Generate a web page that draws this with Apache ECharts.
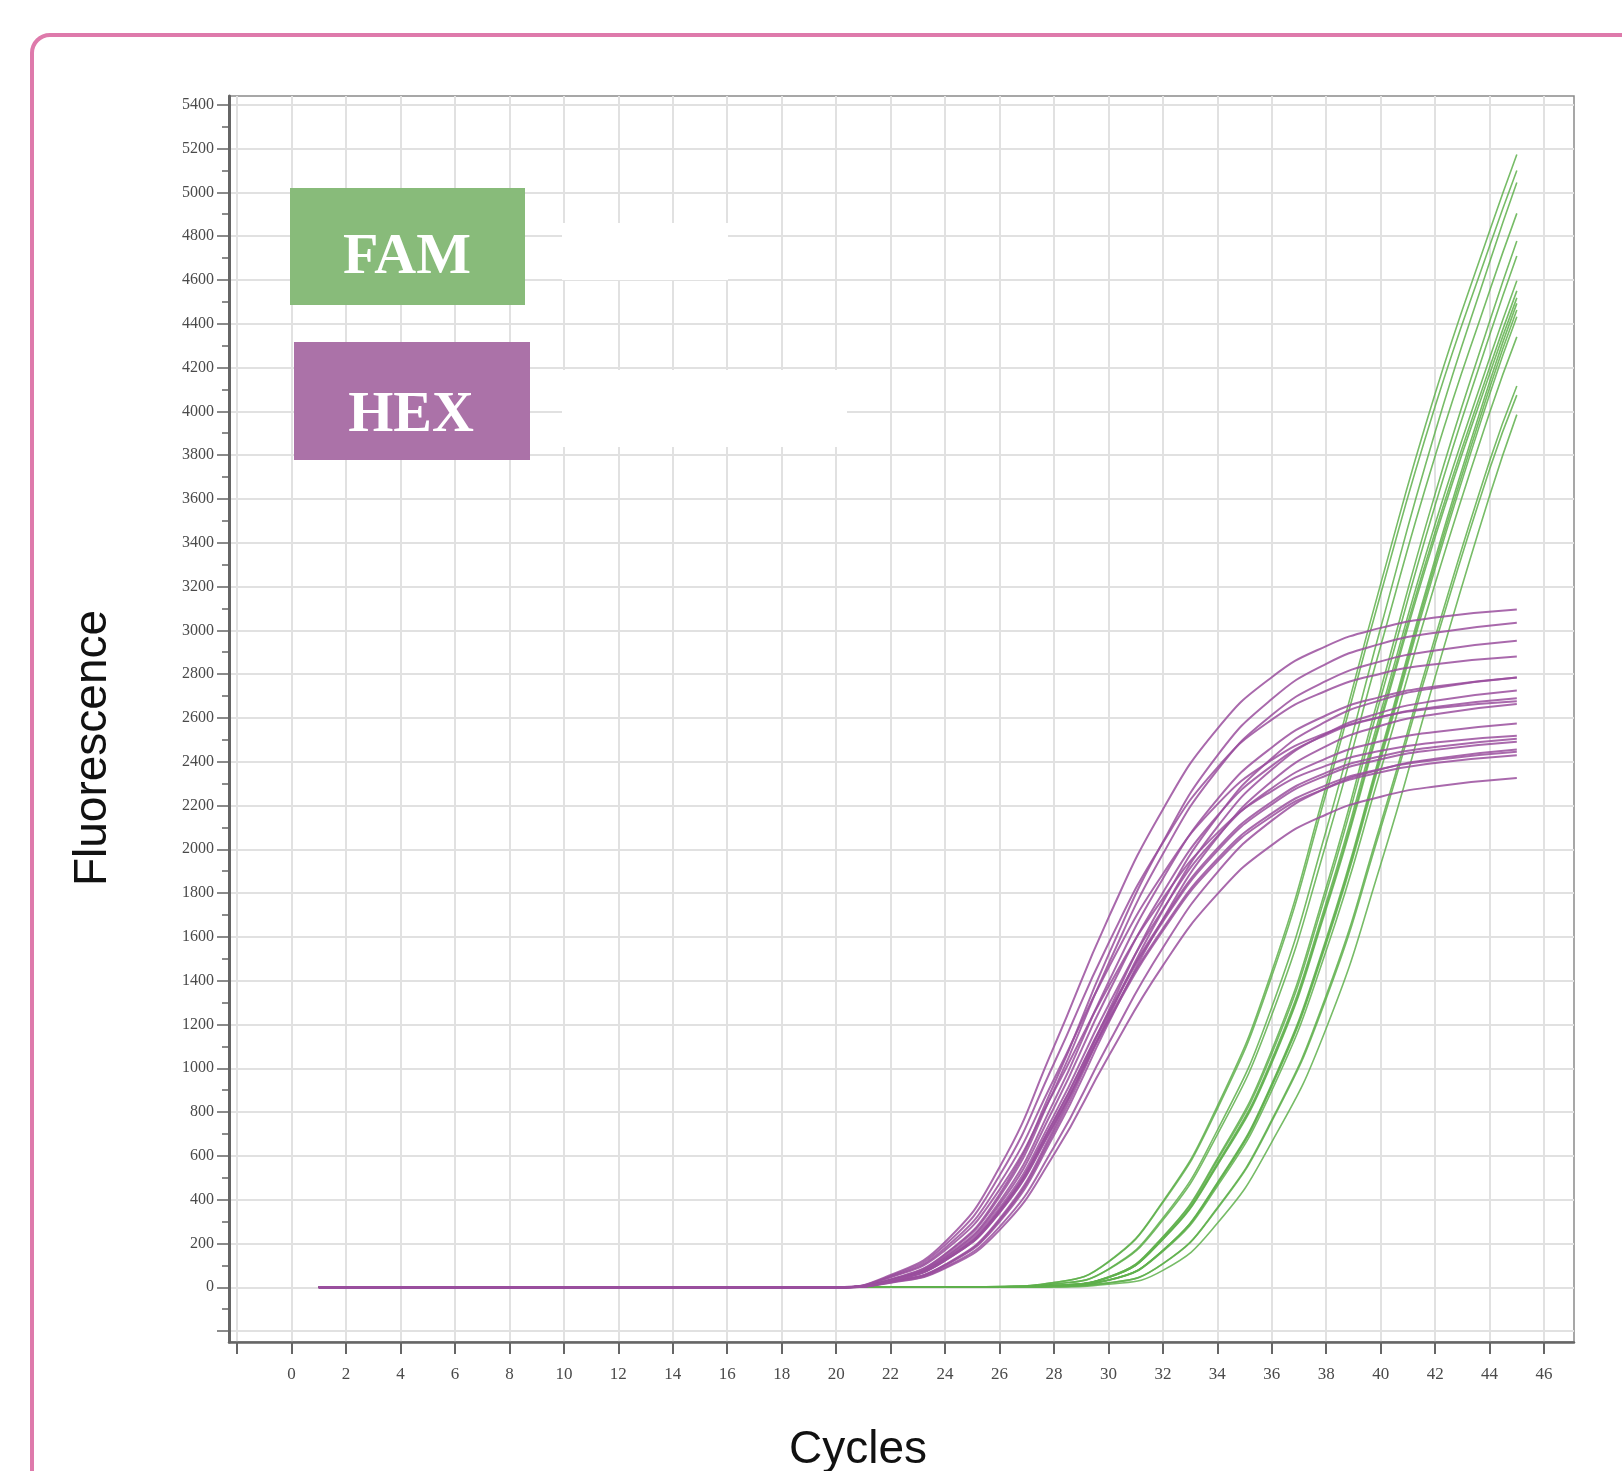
<!DOCTYPE html>
<html>
<head>
<meta charset="utf-8">
<script src="https://cdn.jsdelivr.net/npm/echarts@6/dist/echarts.min.js"></script>
<style>
  html, body { margin: 0; padding: 0; background: #ffffff; }
  #chart { width: 1622px; height: 1471px; }
</style>
</head>
<body>
<div id="chart"></div>
<script>
// ---- tick labels ----
const xTickValues = [-2, 0, 2, 4, 6, 8, 10, 12, 14, 16, 18, 20, 22, 24, 26, 28, 30, 32, 34, 36, 38, 40, 42, 44, 46];
const xLabelValues = [0, 2, 4, 6, 8, 10, 12, 14, 16, 18, 20, 22, 24, 26, 28, 30, 32, 34, 36, 38, 40, 42, 44, 46];
const yTickValues = [-200, 0, 200, 400, 600, 800, 1000, 1200, 1400, 1600, 1800, 2000, 2200, 2400, 2600, 2800, 3000, 3200, 3400, 3600, 3800, 4000, 4200, 4400, 4600, 4800, 5000, 5200, 5400];
const yLabelValues = [0, 200, 400, 600, 800, 1000, 1200, 1400, 1600, 1800, 2000, 2200, 2400, 2600, 2800, 3000, 3200, 3400, 3600, 3800, 4000, 4200, 4400, 4600, 4800, 5000, 5200, 5400];
const yMinorValues = [-100, 100, 300, 500, 700, 900, 1100, 1300, 1500, 1700, 1900, 2100, 2300, 2500, 2700, 2900, 3100, 3300, 3500, 3700, 3900, 4100, 4300, 4500, 4700, 4900, 5100, 5300];

// ---- HEX (purple) curves: cycles and fluorescence ----
const hexCycles = [1, 18, 20, 22, 24, 26, 28, 30, 32, 34, 36, 38, 40, 42, 45];
const hexCurves = [
  [0, 0, 0, 56, 207, 548, 1099, 1687, 2182, 2550, 2786, 2928, 3011, 3058, 3095],
  [0, 0, 0, 36, 152, 425, 926, 1518, 2033, 2428, 2686, 2847, 2938, 2989, 3035],
  [0, 0, 0, 35, 148, 413, 900, 1476, 1978, 2362, 2613, 2769, 2858, 2908, 2952],
  [0, 0, 0, 52, 193, 510, 1022, 1570, 2030, 2373, 2592, 2724, 2802, 2845, 2880],
  [0, 0, 0, 33, 139, 390, 849, 1393, 1866, 2228, 2465, 2612, 2696, 2743, 2785],
  [0, 0, 0, 25, 103, 312, 725, 1261, 1758, 2148, 2416, 2584, 2681, 2737, 2784],
  [0, 0, 0, 25, 101, 306, 710, 1234, 1720, 2102, 2364, 2528, 2624, 2678, 2725],
  [0, 0, 0, 32, 135, 377, 820, 1345, 1802, 2152, 2381, 2523, 2604, 2650, 2690],
  [0, 0, 0, 48, 179, 474, 950, 1458, 1887, 2205, 2408, 2531, 2604, 2644, 2676],
  [0, 0, 0, 24, 99, 299, 694, 1206, 1681, 2054, 2311, 2471, 2564, 2617, 2663],
  [0, 0, 0, 31, 129, 361, 785, 1288, 1725, 2060, 2279, 2415, 2493, 2536, 2575],
  [0, 0, 0, 45, 169, 446, 894, 1372, 1775, 2075, 2266, 2382, 2450, 2488, 2518],
  [0, 0, 0, 30, 125, 351, 764, 1253, 1678, 2004, 2217, 2350, 2425, 2467, 2505],
  [0, 0, 0, 30, 125, 349, 760, 1246, 1669, 1993, 2205, 2337, 2411, 2454, 2491],
  [0, 0, 0, 22, 91, 276, 640, 1112, 1550, 1895, 2131, 2279, 2365, 2414, 2456],
  [0, 0, 0, 29, 122, 342, 746, 1223, 1638, 1956, 2164, 2293, 2367, 2408, 2445],
  [0, 0, 0, 29, 122, 340, 741, 1215, 1628, 1944, 2151, 2279, 2352, 2394, 2430],
  [0, 0, 0, 21, 86, 261, 606, 1054, 1469, 1795, 2019, 2159, 2240, 2287, 2326]
];

// ---- FAM (green) curves ----
const famCycles = [1, 24, 26, 28, 30, 32, 34, 36, 38, 40, 42, 44, 45];
const famCurves = [
  [0, 0, 3, 21, 117, 392, 827, 1442, 2290, 3212, 4081, 4823, 5173],
  [0, 0, 3, 21, 115, 387, 815, 1421, 2257, 3166, 4023, 4755, 5100],
  [0, 0, 2, 15, 83, 316, 717, 1279, 2087, 3012, 3906, 4681, 5045],
  [0, 0, 2, 15, 81, 307, 697, 1243, 2028, 2928, 3796, 4550, 4904],
  [0, 0, 0, 8, 47, 231, 588, 1082, 1827, 2730, 3623, 4410, 4778],
  [0, 0, 0, 8, 47, 228, 580, 1066, 1801, 2691, 3571, 4347, 4709],
  [0, 0, 0, 8, 45, 222, 566, 1040, 1757, 2626, 3485, 4242, 4596],
  [0, 0, 0, 8, 45, 220, 560, 1030, 1740, 2600, 3450, 4200, 4550],
  [0, 0, 0, 8, 45, 218, 556, 1023, 1728, 2582, 3426, 4171, 4518],
  [0, 0, 0, 5, 33, 169, 478, 929, 1592, 2444, 3327, 4134, 4493],
  [0, 0, 0, 5, 33, 168, 474, 923, 1581, 2428, 3305, 4106, 4463],
  [0, 0, 0, 5, 32, 167, 471, 917, 1570, 2411, 3282, 4077, 4432],
  [0, 0, 0, 5, 32, 164, 461, 898, 1538, 2361, 3214, 3993, 4340],
  [0, 0, 0, 3, 20, 108, 363, 764, 1333, 2117, 2969, 3773, 4116],
  [0, 0, 0, 3, 19, 107, 359, 757, 1319, 2095, 2939, 3735, 4074],
  [0, 0, 0, 1, 14, 77, 292, 663, 1183, 1931, 2787, 3614, 3985]
];

const legendNames = ['FAM', 'HEX'];

const series = [];
famCurves.forEach(function (vals, i) {
  series.push({
    name: 'FAM ' + (i + 1), type: 'line', xAxisIndex: 0, yAxisIndex: 0,
    data: famCycles.map(function (c, j) { return [c, vals[j]]; }),
    showSymbol: false, symbol: 'none', smooth: 0.5,
    lineStyle: { color: '#5fb04c', width: 1.6, opacity: 0.85 },
    z: 3, silent: true
  });
});
hexCurves.forEach(function (vals, i) {
  series.push({
    name: 'HEX ' + (i + 1), type: 'line', xAxisIndex: 0, yAxisIndex: 0,
    data: hexCycles.map(function (c, j) { return [c, vals[j]]; }),
    showSymbol: false, symbol: 'none', smooth: 0.5,
    lineStyle: { color: '#9a4f9e', width: 2, opacity: 0.85 },
    z: 4, silent: true
  });
});

const chart = echarts.init(document.getElementById('chart'), null, { renderer: 'canvas' });
chart.setOption({
  animation: false,
  backgroundColor: '#ffffff',
  grid: {
    left: 229, right: 48, top: 96, bottom: 129,
    show: true, borderColor: '#8a8a8a', borderWidth: 1.5, backgroundColor: 'transparent'
  },
  xAxis: [{
    type: 'value', min: -2.3, max: 47.1,
    axisLine: { show: true, onZero: false, lineStyle: { color: '#666', width: 2.5 } },
    axisTick: { show: true, inside: false, length: 12, customValues: xTickValues, lineStyle: { color: '#666', width: 2 } },
    axisLabel: {
      customValues: xLabelValues, margin: 24,
      fontFamily: 'Liberation Serif', fontSize: 17, color: '#4a4a4a',
      formatter: function (v) { return String(v); }
    },
    splitLine: { show: true, lineStyle: { color: '#e1e1e1', width: 2 } }
  }],
  yAxis: [{
    type: 'value', min: -250, max: 5440,
    axisLine: { show: true, onZero: false, lineStyle: { color: '#666', width: 3 } },
    axisTick: { show: true, inside: false, length: 12, customValues: yTickValues, lineStyle: { color: '#666', width: 1.5 } },
    axisLabel: {
      customValues: yLabelValues, margin: 15,
      fontFamily: 'Liberation Serif', fontSize: 16, color: '#4a4a4a',
      formatter: function (v) { return String(v); }
    },
    splitLine: { show: true, lineStyle: { color: '#e1e1e1', width: 2 } }
  }, {
    type: 'value', min: -250, max: 5440, position: 'left', offset: 0,
    axisLine: { show: false, onZero: false },
    axisTick: { show: true, inside: false, length: 7, customValues: yMinorValues, lineStyle: { color: '#666', width: 1.5 } },
    axisLabel: { show: false },
    splitLine: { show: false }
  }],
  series: series,
  graphic: [
    { type: 'rect', z: 100, silent: true,
      shape: { x: 32, y: 35, width: 1700, height: 1600, r: 18 },
      style: { fill: 'none', stroke: '#de7aab', lineWidth: 4 } },
    { type: 'rect', z: 50, silent: true,
      shape: { x: 562, y: 223, width: 166, height: 57 }, style: { fill: '#ffffff' } },
    { type: 'rect', z: 50, silent: true,
      shape: { x: 562, y: 370, width: 285, height: 77 }, style: { fill: '#ffffff' } },
    { type: 'rect', z: 50, silent: true,
      shape: { x: 290, y: 188, width: 235, height: 117 }, style: { fill: '#88bb7a' } },
    { type: 'text', z: 51, silent: true,
      style: { text: legendNames[0], x: 407, y: 258, fill: '#ffffff',
        font: 'bold 58px "Liberation Serif"', textAlign: 'center', textVerticalAlign: 'middle' } },
    { type: 'rect', z: 50, silent: true,
      shape: { x: 294, y: 342, width: 236, height: 118 }, style: { fill: '#ab72a8' } },
    { type: 'text', z: 51, silent: true,
      style: { text: legendNames[1], x: 411, y: 416, fill: '#ffffff',
        font: 'bold 58px "Liberation Serif"', textAlign: 'center', textVerticalAlign: 'middle' } },
    { type: 'text', z: 51, silent: true, x: 93, y: 748, rotation: Math.PI / 2,
      style: { text: 'Fluorescence', x: 0, y: 0, fill: '#111111',
        font: '46px "Liberation Sans"', textAlign: 'center', textVerticalAlign: 'middle' } },
    { type: 'text', z: 51, silent: true,
      style: { text: 'Cycles', x: 858, y: 1450, fill: '#111111',
        font: '46px "Liberation Sans"', textAlign: 'center', textVerticalAlign: 'middle' } }
  ]
});
</script>
</body>
</html>
